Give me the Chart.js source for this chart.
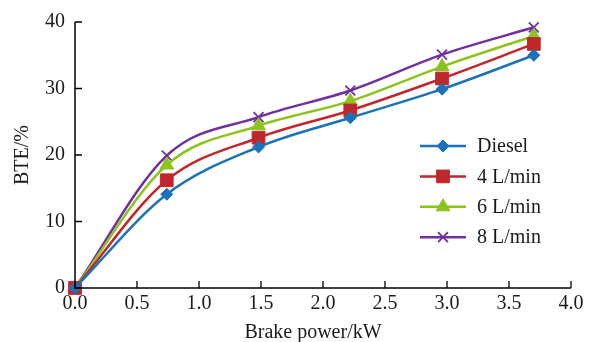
<!DOCTYPE html>
<html>
<head>
<meta charset="utf-8">
<script src="https://cdn.jsdelivr.net/npm/chart.js@4/dist/chart.umd.min.js"></script>
<style>
  html, body { margin: 0; padding: 0; background: #ffffff; }
  #wrap { width: 592px; height: 342px; position: relative; }
</style>
</head>
<body>
<div id="wrap"><canvas id="c" width="592" height="342"></canvas></div>
<script>
const brakePower = [0, 0.74, 1.48, 2.22, 2.96, 3.7];
const seriesNames = ["Diesel", "4 L/min", "6 L/min", "8 L/min"];
const diesel = [0, 14.1, 21.2, 25.6, 29.9, 35.0];
const flow4 = [0, 16.2, 22.6, 26.7, 31.5, 36.7];
const flow6 = [0, 18.5, 24.4, 28.1, 33.3, 37.9];
const flow8 = [0, 19.9, 25.7, 29.7, 35.1, 39.2];
const xTicks = [0, 0.5, 1.0, 1.5, 2.0, 2.5, 3.0, 3.5, 4.0];
const yTicks = [0, 10, 20, 30, 40];
const xTitle = "Brake power/kW";
const yTitle = "BTE/%";

const colors = ["#1c72b8", "#c0272d", "#8cc31f", "#7030a0"];
const styles = ["rectRot", "rect", "triangle", "crossRot"];
const radii = [6, 9, 8, 7];
const values = [diesel, flow4, flow6, flow8];
const FONT = "'Liberation Serif', 'Times New Roman', serif";

const datasets = values.map((vals, i) => ({
  label: seriesNames[i],
  data: brakePower.map((x, j) => ({ x: x, y: vals[j] })),
  borderColor: colors[i],
  backgroundColor: colors[i],
  borderWidth: 2.5,
  pointStyle: styles[i],
  pointRadius: radii[i],
  pointHoverRadius: radii[i],
  pointBorderWidth: styles[i] === "crossRot" ? 1.8 : 1,
  pointBorderColor: colors[i],
  pointBackgroundColor: colors[i],
  cubicInterpolationMode: "monotone",
  fill: false,
  clip: false
}));

const decor = {
  id: "decor",
  afterDraw(chart) {
    const ctx = chart.ctx;
    const xs = chart.scales.x, ys = chart.scales.y;
    const a = chart.chartArea;
    ctx.save();
    // axis lines
    ctx.strokeStyle = "#000";
    ctx.lineWidth = 1.5;
    ctx.beginPath();
    ctx.moveTo(a.left, a.top);
    ctx.lineTo(a.left, a.bottom);
    ctx.lineTo(a.right, a.bottom);
    ctx.stroke();
    // inward ticks
    ctx.lineWidth = 1.3;
    ctx.beginPath();
    xTicks.forEach(v => {
      const px = xs.getPixelForValue(v);
      ctx.moveTo(px, a.bottom);
      ctx.lineTo(px, a.bottom - 7);
    });
    yTicks.forEach(v => {
      const py = ys.getPixelForValue(v);
      ctx.moveTo(a.left, py);
      ctx.lineTo(a.left + 7, py);
    });
    ctx.stroke();
    // titles
    ctx.fillStyle = "#1a1a1a";
    ctx.font = "20px " + FONT;
    ctx.textAlign = "center";
    ctx.textBaseline = "middle";
    ctx.fillText(xTitle, 313, 333);
    ctx.save();
    ctx.translate(23, (a.top + a.bottom) / 2);
    ctx.rotate(-Math.PI / 2);
    ctx.fillText(yTitle, 0, 0);
    ctx.restore();
    // legend
    const lx0 = 420, lx1 = 466, tx = 477, y0 = 146, dy = 30.4;
    chart.data.datasets.forEach((ds, i) => {
      const y = y0 + i * dy;
      ctx.strokeStyle = ds.borderColor;
      ctx.lineWidth = 2.5;
      ctx.beginPath();
      ctx.moveTo(lx0, y);
      ctx.lineTo(lx1, y);
      ctx.stroke();
      ctx.fillStyle = ds.backgroundColor;
      ctx.strokeStyle = ds.borderColor;
      ctx.lineWidth = ds.pointBorderWidth;
      Chart.helpers.drawPoint(ctx, { pointStyle: ds.pointStyle, rotation: 0, radius: ds.pointRadius, borderWidth: ds.pointBorderWidth }, (lx0 + lx1) / 2, y);
      ctx.fillStyle = "#1a1a1a";
      ctx.font = "20px " + FONT;
      ctx.textAlign = "left";
      ctx.textBaseline = "middle";
      ctx.fillText(ds.label, tx, y + 1);
    });
    ctx.restore();
  }
};

new Chart(document.getElementById("c"), {
  type: "line",
  data: { datasets: datasets },
  options: {
    responsive: false,
    animation: false,
    events: [],
    layout: { padding: { left: 0, right: 21, top: 18, bottom: 0 } },
    plugins: { legend: { display: false }, tooltip: { enabled: false } },
    scales: {
      x: {
        type: "linear",
        min: 0, max: 4,
        afterBuildTicks(scale) { scale.ticks = xTicks.map(v => ({ value: v })); },
        afterFit(scale) { scale.height = 54; },
        grid: { display: false, drawTicks: false },
        border: { display: false },
        ticks: {
          padding: 4,
          color: "#1a1a1a",
          font: { family: FONT, size: 20 },
          maxRotation: 0,
          autoSkip: false,
          callback: v => Number(v).toFixed(1)
        }
      },
      y: {
        type: "linear",
        min: 0, max: 40,
        afterBuildTicks(scale) { scale.ticks = yTicks.map(v => ({ value: v })); },
        afterFit(scale) { scale.width = 75; },
        grid: { display: false, drawTicks: false },
        border: { display: false },
        ticks: {
          padding: 10,
          color: "#1a1a1a",
          font: { family: FONT, size: 20 },
          callback: v => String(v)
        }
      }
    }
  },
  plugins: [decor]
});
</script>
</body>
</html>
